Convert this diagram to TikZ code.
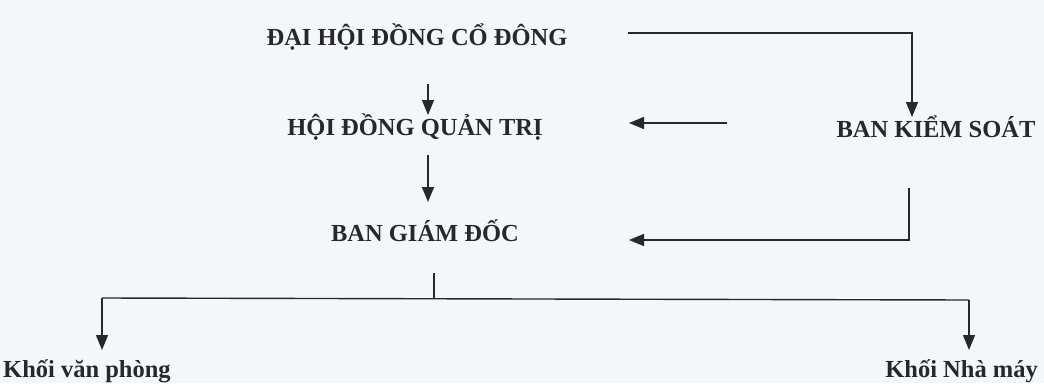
\documentclass[tikz,border=0pt]{standalone}
\usepackage{fontspec}
\setmainfont{Liberation Serif}
\usetikzlibrary{arrows.meta}
\definecolor{bg}{RGB}{244,247,249}
\definecolor{ink}{RGB}{40,40,44}
\begin{document}
\begin{tikzpicture}[x=1pt,y=-1pt,
  lbl/.style={inner sep=0pt,anchor=base,text=ink,font=\fontsize{24.5}{28}\selectfont\bfseries},
  ln/.style={draw=ink,line width=1.4pt},
  arr/.style={ln,-{Triangle[length=15pt,width=12pt]}}]
\fill[bg] (0,0) rectangle (1044,383);
\useasboundingbox (0,0) rectangle (1044,383);
% nodes
\node[lbl] (dhd) at (417,45) {ĐẠI HỘI ĐỒNG CỔ ĐÔNG};
\node[lbl] (hdqt) at (415,135) {HỘI ĐỒNG QUẢN TRỊ};
\node[lbl] (bks) at (936,137) {BAN KIỂM SOÁT};
\node[lbl] (bgd) at (425,241) {BAN GIÁM ĐỐC};
\node[lbl,anchor=base west] (kvp) at (3,377) {Khối văn phòng};
\node[lbl,anchor=base east] (knm) at (1038,377) {Khối Nhà máy};
% helper coordinates
\coordinate (a1s) at (428,84);
\coordinate (a1e) at (428,115);
\coordinate (t0) at (628,33);
\coordinate (t1) at (912,117);
\coordinate (k0) at (727,123);
\coordinate (k1) at (629,123);
\coordinate (a2s) at (428,155);
\coordinate (a2e) at (428,202);
\coordinate (g0) at (909,188);
\coordinate (g1) at (629,240);
\coordinate (s0) at (434,273);
\coordinate (s1) at (434,299);
\coordinate (l0) at (102,298);
\coordinate (r0) at (969,300);
\coordinate (l1) at (102,350);
\coordinate (r1) at (969,350);
% connectors
\draw[arr] (a1s) -- (a1e);
\draw[arr] (t0) -| (t1);
\draw[arr] (k0) -- (k1);
\draw[arr] (a2s) -- (a2e);
\draw[arr] (g0) |- (g1);
\draw[ln] (s0) -- (s1);
\draw[ln] (l0) -- (r0);
\draw[arr] (l0) -- (l1);
\draw[arr] (r0) -- (r1);
\end{tikzpicture}
\end{document}
